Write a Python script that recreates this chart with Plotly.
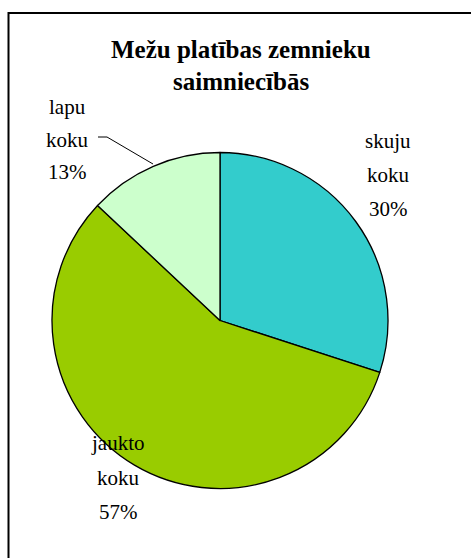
import plotly.graph_objects as go

W, H = 471, 558

title_lines = ["Mežu platības zemnieku", "saimniecībās"]
labels = ["skuju koku", "jaukto koku", "lapu koku"]
values = [30, 57, 13]
colors = ["#33CCCC", "#99CC00", "#CCFFCC"]

def px(x):
    return x / W

def py(y):
    return 1 - y / H

fig = go.Figure(go.Pie(
    labels=labels, values=values, sort=False, direction="clockwise", rotation=0,
    marker=dict(colors=colors, line=dict(color="black", width=1.3)),
    textinfo="none", hoverinfo="label+percent", showlegend=False,
    domain=dict(x=[px(52), px(388)], y=[py(488.5), py(152.5)]),
))

serif = "Liberation Serif, Times New Roman, serif"
ann = []
for i, t in enumerate(title_lines):
    ann.append(dict(text=f"<b>{t}</b>", x=px(241), y=py(50 + 32 * i), xref="paper", yref="paper",
                    showarrow=False, xanchor="center", yanchor="middle",
                    font=dict(family=serif, size=25, color="black")))

total = sum(values)
label_pos = {
    "skuju koku": (388, 141, 34),
    "jaukto koku": (118, 443, 34.5),
    "lapu koku": (67, 107, 32.5),
}
for lab, v in zip(labels, values):
    cx, y0, step = label_pos[lab]
    lines = lab.split(" ") + [f"{round(100 * v / total)}%"]
    for i, t in enumerate(lines):
        ann.append(dict(text=t, x=px(cx), y=py(y0 + step * i), xref="paper", yref="paper",
                        showarrow=False, xanchor="center", yanchor="middle",
                        font=dict(family=serif, size=21, color="black")))

shapes = [
    dict(type="rect", xref="paper", yref="paper", x0=px(8.5), y0=-0.2, x1=1.2, y1=py(13),
         line=dict(color="black", width=2), fillcolor="rgba(0,0,0,0)"),
    dict(type="path", xref="paper", yref="paper",
         path=f"M {px(98)} {py(137)} L {px(107)} {py(137)} L {px(153)} {py(164)}",
         line=dict(color="black", width=1)),
]

fig.update_layout(
    width=W, height=H, margin=dict(l=0, r=0, t=0, b=0),
    paper_bgcolor="white", plot_bgcolor="white",
    annotations=ann, shapes=shapes,
)

fig.write_html(
    "out.html",
    config={"displayModeBar": False},
    post_script="document.body.style.margin='0';document.body.style.overflow='hidden';",
)
